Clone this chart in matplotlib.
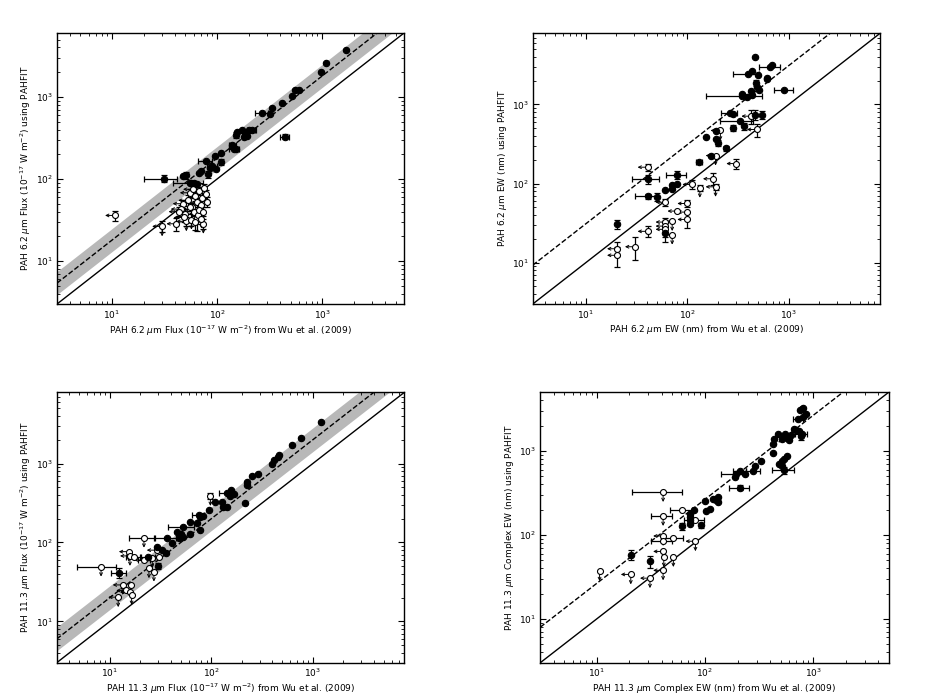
import numpy as np
import matplotlib
matplotlib.use('Agg')
import matplotlib.pyplot as plt
from matplotlib.transforms import offset_copy

plt.rcParams['font.family'] = ['DejaVu Sans']
plt.rcParams['font.size'] = 6.5
plt.rcParams['xtick.direction'] = 'in'
plt.rcParams['ytick.direction'] = 'in'
plt.rcParams['xtick.top'] = True
plt.rcParams['ytick.right'] = True
plt.rcParams['xtick.major.size'] = 4
plt.rcParams['ytick.major.size'] = 4
plt.rcParams['xtick.minor.size'] = 2
plt.rcParams['ytick.minor.size'] = 2
plt.rcParams['axes.linewidth'] = 1.0
plt.rcParams['mathtext.fontset'] = 'dejavusans'

# ---------------- panel 1 : 6.2 um flux ----------------
p1_fx = [1690, 1080, 980, 550, 604, 515, 412, 330, 267, 321, 440, 151, 155, 174, 187, 194, 202, 180, 213,
         140, 145, 152, 108, 108, 95, 78, 85, 98, 90, 82, 68, 70, 31, 47, 51, 56, 60, 65, 55]
p1_fy = [3690, 2565, 2030, 1227, 1203, 1028, 845, 726, 644, 627, 329, 348, 371, 393, 365, 338, 400, 326, 390,
         258, 235, 229, 208, 162, 189, 168, 137, 133, 146, 114, 117, 124, 101, 108, 111, 90, 90, 86, 90]
p1_fxe = [0, 0, 0, 0, 0, 0, 0, 0, 40, 0, 45, 0, 0, 0, 15, 0, 25, 0, 20,
          10, 15, 0, 0, 0, 0, 12, 0, 0, 10, 0, 0, 0, 11, 0, 0, 18, 0, 0, 0]
p1_fye = [0, 0, 0, 0, 0, 0, 0, 0, 0, 0, 25, 30, 0, 0, 0, 0, 0, 0, 0,
          20, 0, 0, 0, 15, 0, 0, 0, 0, 0, 12, 0, 0, 10, 0, 10, 0, 0, 0, 0]
p1_ox = [10.7, 30, 41, 51, 74, 65, 47, 45, 50, 53, 55, 58, 60, 62, 64, 66, 68, 70, 72, 75, 78, 80,
         57, 62, 48, 67, 73, 55, 43, 59, 71]
p1_oy = [36, 26.5, 28.5, 30.5, 28.5, 33.5, 50, 43, 38, 55, 68, 45, 40, 62, 52, 36, 72, 48, 58, 78, 65, 53,
         32, 30, 34, 42, 40, 46, 40, 75, 33]
p1_oxe = [0] * 31
p1_oye = [5, 4, 5, 4, 4, 10, 6, 5, 5, 8, 8, 6, 5, 8, 7, 5, 8, 6, 9, 10, 9, 8,
          5, 6, 4, 6, 5, 5, 5, 8, 5]
p1_left = [1, 1, 1, 1, 0, 0, 1, 1, 0, 1, 1, 0, 1, 0, 1, 0, 1, 1, 0, 1, 0, 0,
           0, 1, 1, 0, 1, 0, 1, 1, 0]
p1_down = [0, 1, 0, 1, 1, 0, 0, 0, 1, 0, 0, 1, 0, 0, 0, 1, 0, 0, 0, 0, 1, 0,
           1, 0, 0, 1, 0, 0, 0, 0, 1]

# ---------------- panel 2 : 6.2 um EW ----------------
p2_fx = [464, 661, 687, 437, 396, 493, 614, 605, 471, 485, 504, 908, 428, 437, 348, 387, 343, 262, 282,
         328, 362, 461, 548, 282, 194, 152, 194, 201, 243, 173, 131, 80, 80, 71, 71, 61, 40.6, 40.6, 50.6,
         20.3, 61]
p2_fy = [3950, 2950, 3130, 2680, 2460, 2370, 2170, 2100, 1877, 1668, 1545, 1545, 1470, 1335, 1270, 1247,
         1373, 783, 747, 615, 532, 739, 739, 507, 460, 386, 368, 327, 278, 222, 185, 128, 99, 95, 86, 83,
         113, 69.5, 67.4, 30.5, 23.4]
p2_fxe = [0, 150, 0, 0, 115, 0, 0, 0, 0, 0, 0, 185, 0, 0, 195, 0, 0, 45, 0,
          120, 0, 0, 0, 0, 0, 0, 0, 0, 0, 0, 10, 18, 0, 0, 0, 0, 12, 10, 0, 0, 0]
p2_fye = [0, 0, 0, 0, 0, 0, 0, 0, 150, 0, 0, 0, 0, 0, 0, 0, 0, 0, 0,
          0, 50, 110, 90, 40, 0, 0, 0, 30, 20, 0, 0, 15, 0, 0, 0, 0, 15, 5, 8, 4, 5]
p2_ox = [40.6, 61, 112, 133, 179, 190, 304, 212, 190, 428, 485, 100, 100, 80, 100, 71, 61, 61, 61, 71,
         40.6, 30.5, 20.3, 20.3]
p2_oy = [161, 58, 97.5, 88.5, 115, 91, 179, 469, 226, 711, 483, 56, 43.6, 44.9, 35.2, 33.6, 32.6, 29,
         26.4, 22.6, 24.9, 15.9, 15, 12.4]
p2_oxe = [0] * 24
p2_oye = [15, 6, 12, 8, 20, 8, 25, 0, 0, 150, 90, 6, 0, 0, 8, 0, 4, 0, 5, 0, 4, 5, 3, 3.5]
p2_left = [1, 1, 1, 0, 1, 1, 1, 1, 1, 1, 1, 1, 1, 1, 1, 1, 1, 1, 1, 1, 1, 1, 1, 1]
p2_down = [0, 0, 0, 1, 0, 1, 0, 1, 1, 0, 0, 0, 0, 0, 0, 1, 0, 0, 0, 1, 0, 0, 0, 0]

# ---------------- panel 3 : 11.3 um flux ----------------
p3_fx = [1199, 767, 626, 460, 455, 411, 396, 286, 254, 225, 225, 216, 158, 143, 166, 152, 108, 128, 131,
         143, 95, 83, 78, 75, 62, 71.5, 78, 62, 52.5, 46, 49.8, 52.5, 48, 41, 36.3, 29.4, 32.9, 35.5, 24,
         29.9, 12.4]
p3_fy = [3360, 2130, 1738, 1300, 1213, 1100, 981, 727, 692, 586, 532, 313, 460, 426, 410, 386, 328, 328,
         284, 284, 258, 216, 212, 222, 183, 178, 144, 127, 158, 137, 128, 116, 113, 97.6, 115, 88.5, 80,
         74.5, 66, 50.5, 41.6]
p3_fxe = [0, 0, 0, 0, 0, 0, 0, 0, 0, 0, 0, 0, 0, 25, 0, 0, 0, 0, 0,
          0, 0, 0, 0, 10, 0, 0, 0, 0, 15, 0, 0, 0, 0, 0, 9, 0, 0, 0, 4, 0, 2.2]
p3_fye = [0] * 39 + [5, 6]
p3_ox = [8.2, 21.7, 15.4, 15.8, 17.3, 21.8, 24.3, 27.2, 29, 26.2, 30.5, 13.4, 16, 14.5, 15.8, 16.4, 12.1, 98]
p3_oy = [49.5, 115, 76.6, 67.6, 66, 60, 47.2, 42.8, 80, 63, 66, 29, 29, 24.7, 23.5, 21.7, 20.3, 389]
p3_oxe = [3.4, 6.4, 0, 0, 3, 3, 0, 0, 0, 0, 0, 0, 0, 0, 0, 0, 0, 0]
p3_oye = [0, 0, 0, 0, 0, 0, 0, 0, 0, 0, 0, 0, 0, 0, 0, 0, 0, 30]
p3_left = [0, 0, 1, 1, 0, 1, 0, 0, 1, 1, 1, 1, 0, 1, 1, 0, 1, 0]
p3_down = [1, 1, 1, 1, 0, 0, 1, 1, 0, 1, 0, 1, 1, 0, 0, 1, 1, 1]

# ---------------- panel 4 : 11.3 um complex EW ----------------
p4_fx = [793, 755, 811, 851, 729, 803, 689, 665, 740, 782, 766, 469, 437, 550, 578, 513, 621, 599, 428,
         422, 570, 539, 513, 485, 513, 539, 330, 293, 280, 237, 212, 192, 188, 212, 132, 126, 119, 132,
         100, 111, 102, 80, 72, 72, 72, 72, 61.7, 91, 20.6, 31]
p4_fy = [3200, 3055, 3260, 2786, 2430, 2545, 1766, 1811, 1733, 1610, 1496, 1610, 1403, 1582, 1442, 1403,
         1538, 1365, 1222, 955, 863, 810, 760, 693, 668, 588, 753, 656, 577, 527, 577, 527, 489, 365, 283,
         263, 270, 247, 251, 205, 192, 196, 179, 163, 149, 136, 126, 130, 58, 48.3]
p4_fxe = [0, 0, 0, 0, 80, 0, 0, 0, 0, 100, 0, 0, 0, 0, 0, 0, 0, 0, 0,
          0, 0, 0, 0, 0, 0, 120, 0, 0, 40, 0, 30, 50, 0, 45, 0, 0, 0, 0,
          0, 0, 0, 0, 0, 0, 0, 0, 0, 0, 0, 0]
p4_fye = [0, 0, 0, 0, 0, 0, 0, 0, 0, 0, 150, 0, 0, 0, 0, 0, 0, 0, 0,
          0, 0, 0, 0, 0, 0, 60, 0, 0, 0, 0, 0, 0, 0, 25, 0, 0, 0, 0,
          0, 0, 0, 0, 0, 0, 0, 0, 12, 8, 8, 8]
p4_ox = [41, 41, 61.7, 81, 41, 41, 51, 81.6, 41, 41.6, 51, 41, 31, 20.6, 10.6]
p4_oy = [324, 168, 200, 152, 97, 84, 92.5, 84, 63.5, 54.5, 54.5, 37.8, 30.5, 33.8, 37]
p4_oxe = [20, 9, 14, 17, 0, 9, 12, 0, 0, 0, 0, 0, 0, 0, 0]
p4_oye = [0] * 15
p4_left = [0, 0, 0, 0, 1, 0, 0, 1, 1, 0, 0, 1, 1, 1, 0]
p4_down = [1, 1, 0, 0, 1, 0, 0, 1, 0, 1, 1, 1, 1, 1, 1]

# fit lines (y = a * x) and band half width in dex
fit1, band1 = 1.8, 0.14
fit2 = 3.1
fit3, band3 = 2.0, 0.15
fit4 = 2.65

lims = [(3, 6000), (3, 8000), (3, 8000), (3, 5000)]

mu = r'$\mu$m'
xlabels = ['PAH 6.2 ' + mu + r' Flux ($10^{-17}$ W m$^{-2}$) from Wu et al. (2009)',
           'PAH 6.2 ' + mu + ' EW (nm) from Wu et al. (2009)',
           'PAH 11.3 ' + mu + r' Flux ($10^{-17}$ W m$^{-2}$) from Wu et al. (2009)',
           'PAH 11.3 ' + mu + ' Complex EW (nm) from Wu et al. (2009)']
ylabels = ['PAH 6.2 ' + mu + r' Flux ($10^{-17}$ W m$^{-2}$) using PAHFIT',
           'PAH 6.2 ' + mu + ' EW (nm) using PAHFIT',
           'PAH 11.3 ' + mu + r' Flux ($10^{-17}$ W m$^{-2}$) using PAHFIT',
           'PAH 11.3 ' + mu + ' Complex EW (nm) using PAHFIT']

fig = plt.figure(figsize=(9.33, 6.97), dpi=100)
rects = [[0.0611, 0.5638, 0.3719, 0.3888],
         [0.5710, 0.5638, 0.3726, 0.3888],
         [0.0608, 0.0492, 0.3727, 0.3880],
         [0.5791, 0.0492, 0.3734, 0.3880]]


def arrows(ax, xs, ys, flags, dx, dy):
    tr = offset_copy(ax.transData, x=dx, y=dy, units='dots')
    for x, y, f in zip(xs, ys, flags):
        if f:
            ax.annotate('', xy=(x, y), xycoords=tr, xytext=(x, y), textcoords='data',
                        arrowprops=dict(arrowstyle='->', lw=0.7, color='k', shrinkA=0, shrinkB=0,
                                        mutation_scale=5), zorder=2)


def panel(rect, fx, fy, fxe, fye, ox, oy, oxe, oye, left, down, lim, fit, band, xl, yl):
    ax = fig.add_axes(rect)
    ax.set_xscale('log')
    ax.set_yscale('log')
    ax.set_xlim(lim)
    ax.set_ylim(lim)
    xs = np.array(lim, dtype=float)
    if band is not None:
        ax.fill_between(xs, fit * xs * 10 ** (-band), fit * xs * 10 ** band, color='0.72', lw=0, zorder=0)
    ax.plot(xs, xs, 'k-', lw=1.0, zorder=1)
    ax.plot(xs, fit * xs, 'k--', lw=1.0, zorder=1)
    ax.errorbar(fx, fy, xerr=fxe, yerr=fye, fmt='none', ecolor='k', elinewidth=0.9, capsize=2, capthick=0.9,
                zorder=2)
    ax.errorbar(ox, oy, xerr=oxe, yerr=oye, fmt='none', ecolor='k', elinewidth=0.9, capsize=2, capthick=0.9,
                zorder=2)
    arrows(ax, ox, oy, left, -10, 0)
    arrows(ax, ox, oy, down, 0, -10)
    ax.plot(ox, oy, 'o', ms=4.3, mfc='w', mec='k', mew=0.8, ls='none', zorder=3)
    ax.plot(fx, fy, 'o', ms=4.6, mfc='k', mec='k', mew=0.8, ls='none', zorder=4)
    ax.set_xlabel(xl, labelpad=2)
    ax.set_ylabel(yl, labelpad=2)
    ax.tick_params(which='both', labelsize=6.5, pad=3)
    return ax


panel(rects[0], p1_fx, p1_fy, p1_fxe, p1_fye, p1_ox, p1_oy, p1_oxe, p1_oye, p1_left, p1_down,
      lims[0], fit1, band1, xlabels[0], ylabels[0])
panel(rects[1], p2_fx, p2_fy, p2_fxe, p2_fye, p2_ox, p2_oy, p2_oxe, p2_oye, p2_left, p2_down,
      lims[1], fit2, None, xlabels[1], ylabels[1])
panel(rects[2], p3_fx, p3_fy, p3_fxe, p3_fye, p3_ox, p3_oy, p3_oxe, p3_oye, p3_left, p3_down,
      lims[2], fit3, band3, xlabels[2], ylabels[2])
panel(rects[3], p4_fx, p4_fy, p4_fxe, p4_fye, p4_ox, p4_oy, p4_oxe, p4_oye, p4_left, p4_down,
      lims[3], fit4, None, xlabels[3], ylabels[3])

fig.savefig('out.png', dpi=100, facecolor='white')
